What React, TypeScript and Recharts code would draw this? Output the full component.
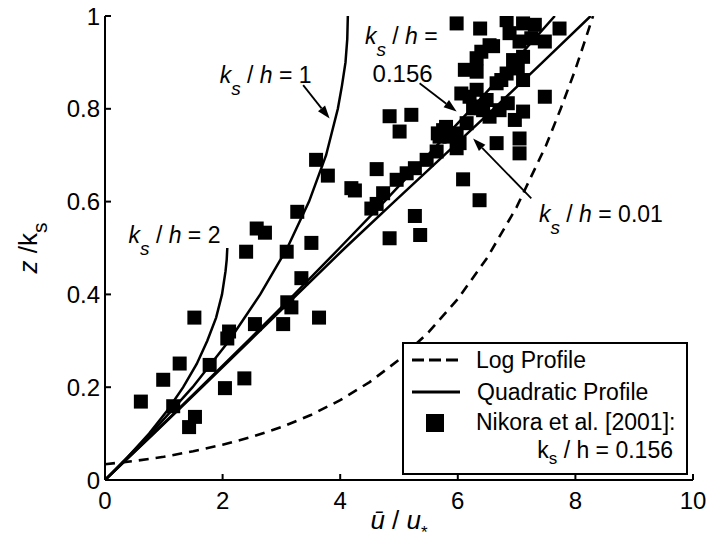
import React from 'react'
import {
  ComposedChart,
  Scatter,
  XAxis,
  YAxis,
  ReferenceLine,
  ReferenceDot,
  Legend,
  Label,
} from 'recharts'

const FONT = '"Liberation Sans", Arial, Helvetica, sans-serif'

// axes
const X_TICKS = [0, 2, 4, 6, 8, 10]
const Y_TICKS = [0, 0.2, 0.4, 0.6, 0.8, 1]

// log profile (dashed): u = ū/u*, z = z/ks
const LOG_U = [0, 0.5, 1, 1.5, 2, 2.5, 3, 3.5, 4, 4.5, 5, 5.5, 6, 6.5, 7, 7.5, 7.75, 8, 8.15, 8.3]
const LOG_Z = [0.034, 0.041, 0.05, 0.062, 0.076, 0.093, 0.114, 0.14, 0.172, 0.211, 0.259, 0.318, 0.39, 0.479, 0.588, 0.721, 0.8, 0.885, 0.942, 1.0]

// quadratic profiles for the four ks/h values
const Q_Z = [0, 0.1, 0.2, 0.3, 0.4, 0.5, 0.6, 0.7, 0.8, 0.9, 1.0]
const Q001_U = [0, 0.83, 1.65, 2.46, 3.27, 4.08, 4.92, 5.77, 6.61, 7.44, 8.26]
const Q0156_U = [0, 0.82, 1.63, 2.43, 3.22, 3.99, 4.75, 5.49, 6.23, 6.95, 7.65]

const Q1_Z = [0, 0.1, 0.2, 0.3, 0.4, 0.5, 0.6, 0.7, 0.8, 0.85, 0.9, 0.95, 1.0]
const Q1_U = [0, 0.78, 1.49, 2.11, 2.64, 3.1, 3.47, 3.76, 3.96, 4.03, 4.09, 4.12, 4.13]

const Q2_Z = [0, 0.05, 0.1, 0.15, 0.2, 0.25, 0.3, 0.35, 0.4, 0.45, 0.475, 0.5]
const Q2_U = [0, 0.39, 0.75, 1.06, 1.33, 1.56, 1.74, 1.89, 1.99, 2.05, 2.07, 2.08]

// Nikora et al. [2001] measurements
const NIKORA_U = [
  0.61, 0.99, 1.27, 1.52, 1.16, 1.53, 1.43, 1.78, 2.04, 2.08, 2.11, 2.37, 2.55, 3.03, 3.1, 3.17, 3.64, 3.34,
  2.4, 2.58, 2.72, 3.09, 3.51, 3.27, 3.59, 3.79, 4.19, 4.25, 4.62, 4.84, 5.21, 5.01, 5.27, 5.36, 4.84, 6.09, 6.37,
  4.53, 4.62, 4.73, 4.96, 5.13, 5.27, 5.47, 5.64, 5.69, 5.75, 5.98, 6.03, 5.98, 6.15, 6.2, 6.26, 5.8, 5.66, 5.86,
  5.98, 6.38, 6.83, 6.88, 7.11, 7.31, 7.25, 7.48, 7.73, 7.05, 6.4, 6.6, 6.12, 6.32, 6.32, 6.74, 6.94, 7.02, 7.11,
  6.83, 6.66, 6.06, 6.32, 6.32, 6.49, 6.85, 7.11, 7.48, 6.97, 6.66, 7.05, 7.05, 6.43, 6.54, 6.71, 6.54, 7.11,
]
const NIKORA_Z = [
  0.169, 0.216, 0.251, 0.35, 0.159, 0.136, 0.114, 0.248, 0.198, 0.305, 0.32, 0.219, 0.336, 0.336, 0.383, 0.372, 0.35, 0.435,
  0.492, 0.542, 0.533, 0.492, 0.511, 0.578, 0.69, 0.656, 0.629, 0.624, 0.67, 0.784, 0.787, 0.751, 0.569, 0.528, 0.521, 0.648, 0.603,
  0.585, 0.595, 0.618, 0.647, 0.661, 0.672, 0.69, 0.708, 0.74, 0.754, 0.747, 0.726, 0.715, 0.769, 0.826, 0.801, 0.761, 0.747, 0.74,
  0.984, 0.973, 0.991, 0.963, 0.984, 0.981, 0.952, 0.945, 0.973, 0.945, 0.923, 0.935, 0.884, 0.909, 0.88, 0.862, 0.905, 0.887, 0.862,
  0.876, 0.855, 0.833, 0.841, 0.805, 0.819, 0.812, 0.794, 0.826, 0.776, 0.726, 0.736, 0.704, 0.797, 0.783, 0.797, 0.937, 0.912,
]

// annotation anchors in data units
const ARROWS = [
  { from: [3.37, 0.851], to: [3.82, 0.779] },
  { from: [5.35, 0.855], to: [5.98, 0.794] },
  { from: [7.25, 0.607], to: [6.26, 0.736] },
]
const KS_LABELS = [
  { u: 1.95, z: 0.856, text: ' = 1' },
  { u: 0.4, z: 0.51, text: ' = 2' },
  { u: 4.42, z: 0.94, text: ' =' },
  { u: 7.38, z: 0.557, text: ' = 0.01' },
]
const PLAIN_LABELS = [{ u: 4.55, z: 0.858, text: '0.156' }]

const zip = (us: number[], zs: number[]) => us.map((u, i) => ({ x: u, y: zs[i] }))

const logData = zip(LOG_U, LOG_Z)
const q001Data = zip(Q001_U, Q_Z)
const q0156Data = zip(Q0156_U, Q_Z)
const q1Data = zip(Q1_U, Q1_Z)
const q2Data = zip(Q2_U, Q2_Z)
const nikoraData = zip(NIKORA_U, NIKORA_Z)

const NoDot = () => <g />

const Square = (props: any) => {
  const { cx, cy } = props
  if (cx == null || cy == null) return <g />
  return <rect x={cx - 7} y={cy - 7} width={14} height={14} fill="#000" />
}

const arrowShape = (props: any) => {
  const { x1, y1, x2, y2 } = props
  const ang = Math.atan2(y2 - y1, x2 - x1)
  const len = 13
  const half = 4.5
  const bx = x2 - len * Math.cos(ang)
  const by = y2 - len * Math.sin(ang)
  const px = -Math.sin(ang) * half
  const py = Math.cos(ang) * half
  return (
    <g>
      <line x1={x1} y1={y1} x2={bx} y2={by} stroke="#000" strokeWidth={1.8} />
      <polygon points={`${x2},${y2} ${bx + px},${by + py} ${bx - px},${by - py}`} fill="#000" />
    </g>
  )
}

const ksText = (text: string) => (props: any) => (
  <text x={props.cx} y={props.cy} fontFamily={FONT} fontSize={23} fill="#000" style={{ whiteSpace: 'pre' }}>
    <tspan fontStyle="italic">k</tspan>
    <tspan fontStyle="italic" fontSize={19} dy={12}>s</tspan>
    <tspan dy={-12}> / </tspan>
    <tspan fontStyle="italic">h</tspan>
    <tspan>{text}</tspan>
  </text>
)

const plainText = (text: string) => (props: any) => (
  <text x={props.cx} y={props.cy} fontFamily={FONT} fontSize={24} fill="#000">
    {text}
  </text>
)

const XTitle = (props: any) => {
  const { viewBox } = props
  const cx = viewBox.x + viewBox.width / 2
  return (
    <text x={cx} y={viewBox.y + 49} textAnchor="middle" fontFamily={FONT} fontSize={26} fill="#000" style={{ whiteSpace: 'pre' }}>
      <tspan fontStyle="italic">ū</tspan>
      <tspan> / </tspan>
      <tspan fontStyle="italic">u</tspan>
      <tspan fontSize={17} dy={9}>*</tspan>
    </text>
  )
}

const YTitle = (props: any) => {
  const { viewBox } = props
  const x = viewBox.x + 37
  const cy = viewBox.y + viewBox.height / 2
  return (
    <text x={x} y={cy} textAnchor="middle" transform={`rotate(-90 ${x} ${cy})`} fontFamily={FONT} fontSize={26} fill="#000" style={{ whiteSpace: 'pre' }}>
      <tspan fontStyle="italic">z</tspan>
      <tspan> /</tspan>
      <tspan>k</tspan>
      <tspan fontSize={21} dy={10}>s</tspan>
    </text>
  )
}

function LegendBox() {
  const t = { fontFamily: FONT, fontSize: 23, fill: '#000' }
  return (
    <svg width={286} height={133} style={{ display: 'block' }}>
      <rect x={1} y={1} width={284} height={131} fill="#fff" stroke="#000" strokeWidth={2} />
      <line x1={10} y1={18} x2={58} y2={18} stroke="#000" strokeWidth={3} strokeDasharray="12 5" />
      <text x={74} y={26} {...t}>Log Profile</text>
      <line x1={10} y1={50} x2={58} y2={50} stroke="#000" strokeWidth={3} />
      <text x={75} y={58} {...t}>Quadratic Profile</text>
      <rect x={24} y={72} width={18} height={18} fill="#000" />
      <text x={74} y={88} {...t}>Nikora et al. [2001]:</text>
      <text x={271} y={116} textAnchor="end" {...t} style={{ whiteSpace: 'pre' }}>
        <tspan>k</tspan>
        <tspan fontSize={17} dy={6}>s</tspan>
        <tspan dy={-6}> / h = 0.156</tspan>
      </text>
    </svg>
  )
}

const axisStroke = { stroke: '#000', strokeWidth: 2 }
const tickStyle = { fill: '#000', fontSize: 24, fontFamily: FONT }

export default function App() {
  return (
    <div style={{ position: 'absolute', left: 0, top: 0, width: 706, height: 544, background: '#fff' }}>
      <ComposedChart width={706} height={544} margin={{ top: 16, right: 13, bottom: 0, left: 0 }}>
        <XAxis
          dataKey="x"
          type="number"
          domain={[0, 10]}
          ticks={X_TICKS}
          interval={0}
          height={64}
          tickSize={-6}
          tickMargin={18}
          tick={tickStyle}
          axisLine={axisStroke}
          tickLine={axisStroke}
          allowDataOverflow
        >
          <Label content={XTitle} />
        </XAxis>
        <XAxis
          xAxisId="top"
          orientation="top"
          type="number"
          domain={[0, 10]}
          ticks={X_TICKS}
          interval={0}
          height={0}
          tickSize={-6}
          tick={false}
          axisLine={axisStroke}
          tickLine={axisStroke}
        />
        <YAxis
          dataKey="y"
          type="number"
          domain={[0, 1]}
          ticks={Y_TICKS}
          interval={0}
          width={105}
          tickSize={-6}
          tickMargin={11}
          tick={tickStyle}
          axisLine={axisStroke}
          tickLine={axisStroke}
          allowDataOverflow
        >
          <Label content={YTitle} />
        </YAxis>
        <YAxis
          yAxisId="right"
          orientation="right"
          type="number"
          domain={[0, 1]}
          ticks={Y_TICKS}
          interval={0}
          width={0}
          tickSize={-6}
          tick={false}
          axisLine={axisStroke}
          tickLine={axisStroke}
        />

        <Scatter
          name="Log Profile"
          data={logData}
          line={{ stroke: '#000', strokeWidth: 2.6, strokeDasharray: '10 7' }}
          shape={NoDot}
          isAnimationActive={false}
        />
        <Scatter data={q001Data} line={{ stroke: '#000', strokeWidth: 2.5 }} shape={NoDot} isAnimationActive={false} />
        <Scatter data={q0156Data} line={{ stroke: '#000', strokeWidth: 2.5 }} shape={NoDot} isAnimationActive={false} />
        <Scatter data={q1Data} line={{ stroke: '#000', strokeWidth: 2.5 }} shape={NoDot} isAnimationActive={false} />
        <Scatter data={q2Data} line={{ stroke: '#000', strokeWidth: 2.5 }} shape={NoDot} isAnimationActive={false} />
        <Scatter name="Nikora" data={nikoraData} shape={Square} isAnimationActive={false} />

        {ARROWS.map((a, i) => (
          <ReferenceLine
            key={`arrow-${i}`}
            segment={[
              { x: a.from[0], y: a.from[1] },
              { x: a.to[0], y: a.to[1] },
            ]}
            shape={arrowShape}
          />
        ))}
        {KS_LABELS.map((l, i) => (
          <ReferenceDot key={`ks-${i}`} x={l.u} y={l.z} r={1} shape={ksText(l.text)} />
        ))}
        {PLAIN_LABELS.map((l, i) => (
          <ReferenceDot key={`pl-${i}`} x={l.u} y={l.z} r={1} shape={plainText(l.text)} />
        ))}

        <Legend
          layout="vertical"
          align="center"
          verticalAlign="middle"
          wrapperStyle={{ left: 402, top: 342, width: 286, height: 133 }}
          content={() => <LegendBox />}
        />
      </ComposedChart>
    </div>
  )
}
